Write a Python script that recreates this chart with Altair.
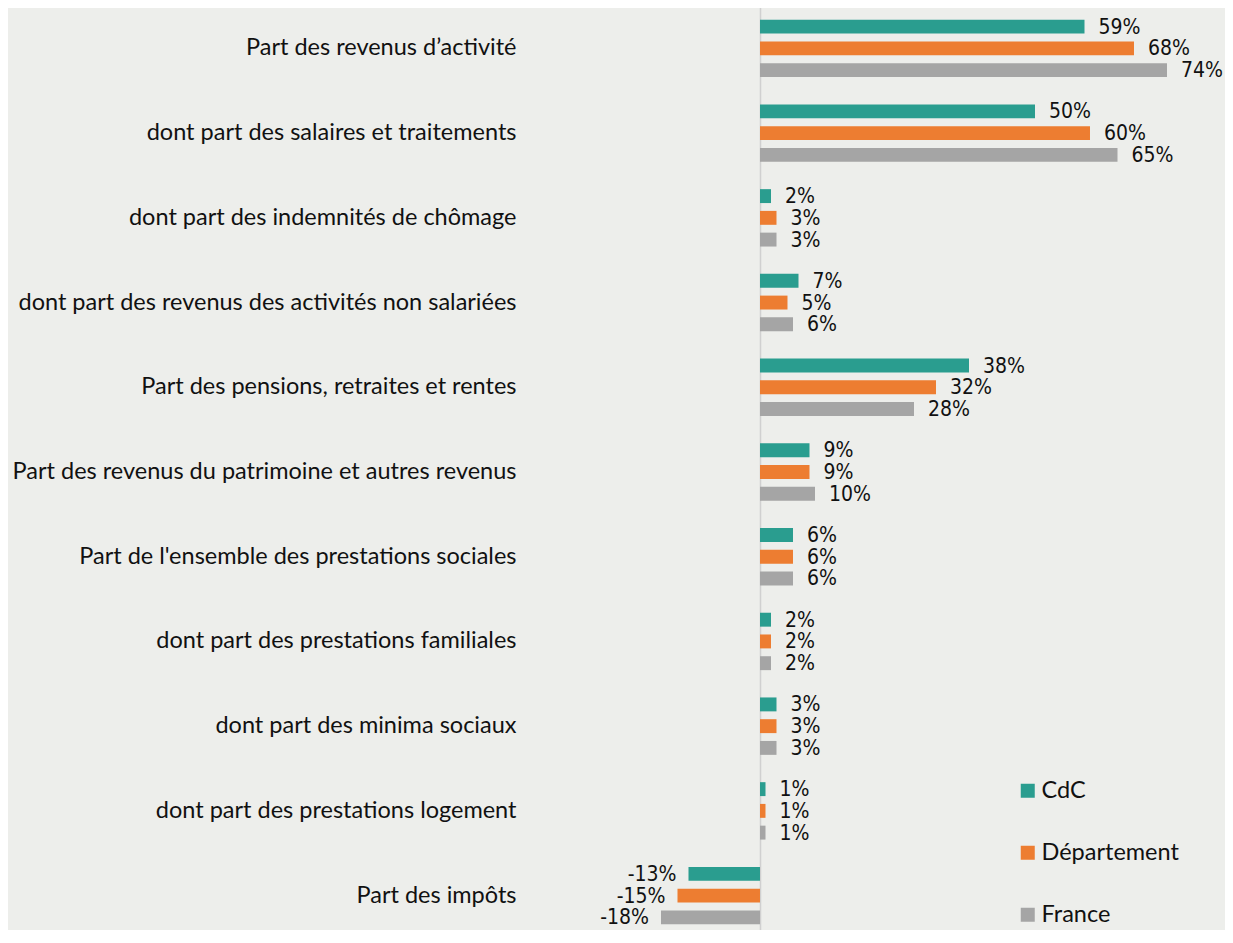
import altair as alt
import pandas as pd

categories = [
    "Part des revenus d’activité",
    "dont part des salaires et traitements",
    "dont part des indemnités de chômage",
    "dont part des revenus des activités non salariées",
    "Part des pensions, retraites et rentes",
    "Part des revenus du patrimoine et autres revenus",
    "Part de l'ensemble des prestations sociales",
    "dont part des prestations familiales",
    "dont part des minima sociaux",
    "dont part des prestations logement",
    "Part des impôts",
]
series = ["CdC", "Département", "France"]
cdc = [59, 50, 2, 7, 38, 9, 6, 2, 3, 1, -13]
departement = [68, 60, 3, 5, 32, 9, 6, 2, 3, 1, -15]
france = [74, 65, 3, 6, 28, 10, 6, 2, 3, 1, -18]
colors = ["#2A9D8F", "#ED7D31", "#A5A5A5"]

rows = []
for s, vals in zip(series, [cdc, departement, france]):
    for c, v in zip(categories, vals):
        rows.append({"cat": c, "serie": s, "value": v, "label": f"{v}%"})
df = pd.DataFrame(rows)

y_scale = alt.Scale(range=[0, 928], paddingInner=0.23, paddingOuter=0.092)
y_enc = alt.Y("cat:N", sort=categories, scale=y_scale,
              axis=alt.Axis(title=None, ticks=False, domain=False, labelPadding=18,
                            labelFontSize=23.5, labelFont="Lato", labelColor="#111111",
                            labelLimit=600))
yoff = alt.YOffset("serie:N", sort=series,
                   scale=alt.Scale(paddingInner=0.36, paddingOuter=0.18))
x_scale = alt.Scale(domain=[-41.09, 78.91], nice=False, zero=False)

base = alt.Chart(df)

bars = base.mark_bar().encode(
    y=y_enc,
    yOffset=yoff,
    x=alt.X("value:Q", scale=x_scale,
            axis=alt.Axis(title=None, values=[0], grid=True, gridColor="#D0D0D0",
                          gridWidth=1.5, labels=False, ticks=False, domain=False)),
    color=alt.Color("serie:N", sort=series,
                    scale=alt.Scale(domain=series, range=colors),
                    legend=alt.Legend(title=None, orient="none", legendX=482, legendY=771,
                                      symbolType="square", symbolSize=196,
                                      symbolStrokeWidth=0, labelFontSize=23.5,
                                      labelFont="Lato", labelColor="#111111",
                                      rowPadding=37, labelOffset=2)),
)

pos_labels = base.transform_filter("datum.value >= 0").mark_text(
    align="left", baseline="middle", dx=14, dy=1, fontSize=21,
    font="DejaVu Sans Condensed", color="#111111"
).encode(y=alt.Y("cat:N", sort=categories), yOffset=yoff,
         x=alt.X("value:Q", scale=x_scale), text="label:N")

neg_labels = base.transform_filter("datum.value < 0").mark_text(
    align="right", baseline="middle", dx=-12, dy=1, fontSize=21,
    font="DejaVu Sans Condensed", color="#111111"
).encode(y=alt.Y("cat:N", sort=categories), yOffset=yoff,
         x=alt.X("value:Q", scale=x_scale), text="label:N")

chart = alt.layer(bars, pos_labels, neg_labels).properties(
    width=660, height=922,
    background="#EDEEEB",
    padding={"left": 526, "top": 0, "right": 31, "bottom": 0},
    autosize=alt.AutoSizeParams(type="none"),
).configure_view(stroke=None)

chart.save("out.html", embed_options={"renderer": "svg", "actions": False})
